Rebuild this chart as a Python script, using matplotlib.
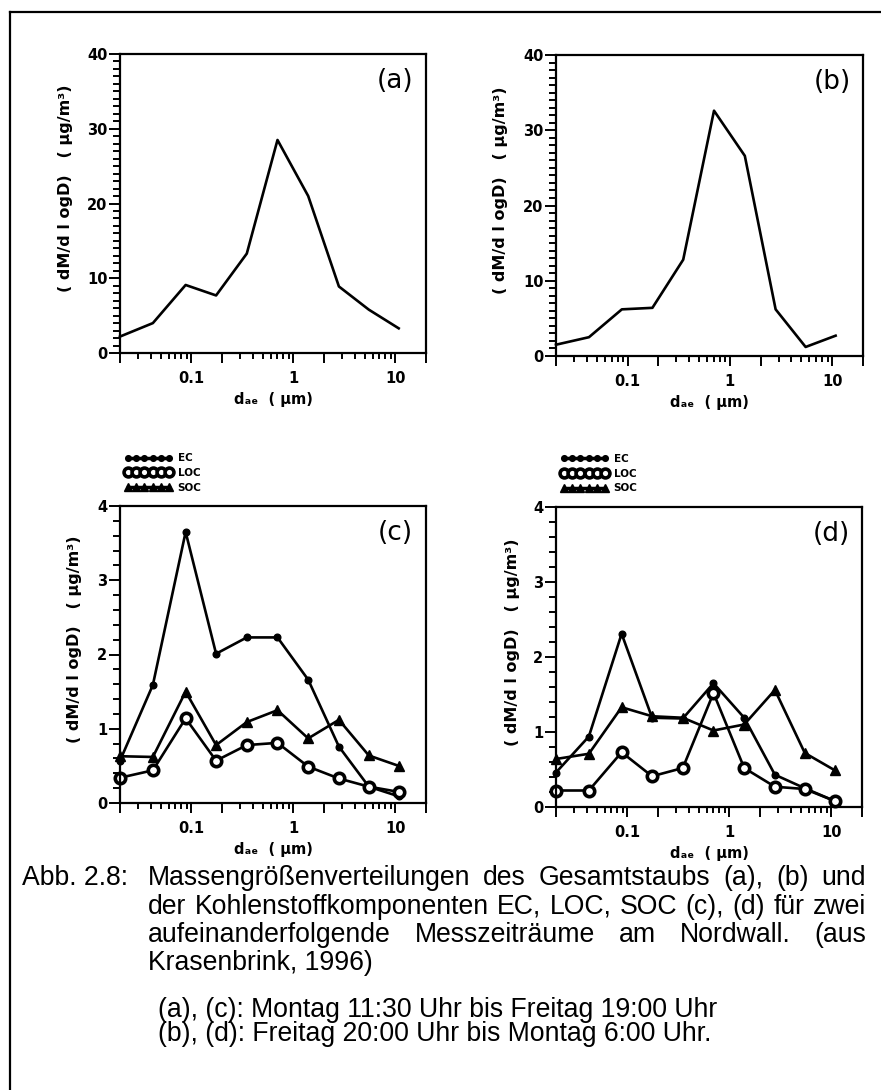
import matplotlib
matplotlib.use("Agg")
import matplotlib.pyplot as plt
from matplotlib.ticker import FixedLocator, FuncFormatter, LogLocator, NullFormatter, MultipleLocator
from matplotlib.lines import Line2D
from matplotlib import font_manager as fm

# ---------------- data ----------------
d_ae = [0.02, 0.042, 0.088, 0.175, 0.35, 0.70, 1.4, 2.8, 5.5, 10.8]

total_a = [2.2, 4.0, 9.1, 7.7, 13.3, 28.5, 21.0, 8.9, 5.8, 3.3]
total_b = [1.5, 2.5, 6.2, 6.4, 12.8, 32.6, 26.6, 6.2, 1.2, 2.7]

EC_c = [0.57, 1.59, 3.65, 2.01, 2.23, 2.23, 1.66, 0.76, 0.22, 0.09]
LOC_c = [0.34, 0.44, 1.14, 0.57, 0.78, 0.81, 0.49, 0.33, 0.22, 0.15]
SOC_c = [0.63, 0.62, 1.50, 0.78, 1.09, 1.25, 0.87, 1.12, 0.64, 0.50]

EC_d = [0.46, 0.94, 2.31, 1.19, 1.18, 1.65, 1.19, 0.43, 0.25, 0.08]
LOC_d = [0.22, 0.22, 0.73, 0.41, 0.52, 1.52, 0.52, 0.27, 0.24, 0.08]
SOC_d = [0.64, 0.71, 1.33, 1.21, 1.19, 1.02, 1.10, 1.56, 0.72, 0.49]

series_names = ["EC", "LOC", "SOC"]
panel_labels = ["(a)", "(b)", "(c)", "(d)"]
x_ticks = [0.1, 1, 10]
x_tick_labels = ["0.1", "1", "10"]
ylabel_text = "( dM/d l ogD)   ( μg/m³)"
xlabel_text = "dₐₑ  ( μm)"

caption_lines = [
    "Massengrößenverteilungen des Gesamtstaubs (a), (b) und",
    "der Kohlenstoffkomponenten EC, LOC, SOC (c), (d) für zwei",
    "aufeinanderfolgende Messzeiträume am Nordwall. (aus",
    "Krasenbrink, 1996)",
]
caption_head = "Abb. 2.8:"
note_lines = [
    "(a), (c): Montag 11:30 Uhr bis Freitag 19:00 Uhr",
    "(b), (d): Freitag 20:00 Uhr bis Montag 6:00 Uhr.",
]

# ---------------- figure ----------------
W, H = 881, 1090
fig = plt.figure(figsize=(W / 100, H / 100), dpi=100)
fig.patch.set_facecolor("white")


def px_axes(left, top, right, bottom):
    return fig.add_axes([left / W, 1 - bottom / H, (right - left) / W, (bottom - top) / H])


ax_a = px_axes(120, 54, 426, 353)
ax_b = px_axes(556, 55, 863, 356)
ax_c = px_axes(120, 506, 426, 803)
ax_d = px_axes(556, 507, 862, 807)

tick_font = dict(family="DejaVu Sans", weight="bold", size=10.5)


def style_axis(ax, ymax, ymajor, yminor, label, ylab_x):
    ax.set_xscale("log")
    ax.set_xlim(0.02, 20)
    ax.set_ylim(0, ymax)
    major_pos = [0.02, 0.1, 0.2, 1, 2, 10, 20]
    ax.xaxis.set_major_locator(FixedLocator(major_pos))
    lab = dict(zip(x_ticks, x_tick_labels))
    ax.xaxis.set_major_formatter(FuncFormatter(
        lambda v, p: next((t for k, t in lab.items() if abs(v - k) < 1e-9), "")))
    ax.xaxis.set_minor_locator(LogLocator(base=10, subs=[3, 4, 5, 6, 7, 8, 9], numticks=20))
    ax.xaxis.set_minor_formatter(NullFormatter())
    ax.yaxis.set_major_locator(MultipleLocator(ymajor))
    ax.yaxis.set_minor_locator(MultipleLocator(yminor))
    ax.yaxis.set_major_formatter(FuncFormatter(lambda v, p: f"{v:g}"))
    for s in ax.spines.values():
        s.set_linewidth(1.6)
    ax.tick_params(axis="both", which="both", direction="out", top=False, right=False, width=1.4)
    ax.tick_params(axis="x", which="major", length=7, pad=6)
    ax.tick_params(axis="x", which="minor", length=4.5)
    ax.tick_params(axis="y", which="major", length=8, pad=1)
    ax.tick_params(axis="y", which="minor", length=5)
    for t in ax.get_xticklabels() + ax.get_yticklabels():
        t.set_fontproperties(fm.FontProperties(**tick_font))
    ax.set_ylabel(ylabel_text, fontdict=dict(family="DejaVu Sans", weight="bold", size=11.5))
    ax.yaxis.set_label_coords(ylab_x, 0.55)
    ax.set_xlabel(xlabel_text, fontdict=dict(family="DejaVu Sans", weight="bold", size=10.5))
    ax.xaxis.set_label_coords(0.5, -0.13)
    ax.text(0.9, 0.91, label, transform=ax.transAxes, ha="center", va="center",
            fontsize=19, family="DejaVu Sans")


style_axis(ax_a, 40, 10, 1, panel_labels[0], -0.154)
style_axis(ax_b, 40, 10, 1, panel_labels[1], -0.156)
style_axis(ax_c, 4, 1, 0.2, panel_labels[2], -0.124)
style_axis(ax_d, 4, 1, 0.2, panel_labels[3], -0.117)

lw = 1.9
ax_a.plot(d_ae, total_a, color="black", lw=lw, clip_on=False)
ax_b.plot(d_ae, total_b, color="black", lw=lw, clip_on=False)

styles = {
    "EC": dict(marker="o", ms=4.8, mfc="black", mec="black"),
    "LOC": dict(marker="o", ms=7.5, mfc="white", mec="black", mew=2.6),
    "SOC": dict(marker="^", ms=6.5, mfc="black", mec="black"),
}

for ax, data in [(ax_c, [EC_c, LOC_c, SOC_c]), (ax_d, [EC_d, LOC_d, SOC_d])]:
    for name, vals in zip(series_names, data):
        ax.plot(d_ae, vals, color="black", lw=lw, clip_on=False, label=name, **styles[name])
    leg = ax.legend(loc="lower left", bbox_to_anchor=(0.015, 1.045), numpoints=6,
                    frameon=False, handlelength=4.6, handletextpad=0.5, labelspacing=0.45,
                    borderpad=0, borderaxespad=0, markerscale=0.85,
                    prop=fm.FontProperties(family="DejaVu Sans", weight="bold", size=7.5))
    for h in leg.legend_handles:
        h.set_linewidth(2.5)

# ---------------- outer frame ----------------
fig.add_artist(Line2D([10 / W, 10 / W], [1 - 12 / H, 0], transform=fig.transFigure,
                      color="black", lw=1.6))
fig.add_artist(Line2D([10 / W, 1], [1 - 12 / H, 1 - 12 / H], transform=fig.transFigure,
                      color="black", lw=1.6))

# ---------------- caption ----------------
def have(name):
    try:
        fm.findfont(fm.FontProperties(family=name), fallback_to_default=False)
        return True
    except Exception:
        return False


cap_family = "Liberation Sans Narrow" if have("Liberation Sans Narrow") else "Liberation Sans"

fig.canvas.draw()
r = fig.canvas.get_renderer()

# fit font size so that the note line spans its width in the reference
probe = fig.text(0, 0, note_lines[0], fontsize=10, family=cap_family)
w10 = probe.get_window_extent(r).width
probe.remove()
cap_fs = 10 * 562 / w10


def put(x, y, s):
    return fig.text(x / W, 1 - y / H, s, fontsize=cap_fs, family=cap_family,
                    ha="left", va="center")


def justify(line, y, x0, x1):
    words = line.split(" ")
    texts = [put(0, y, w) for w in words]
    widths = [t.get_window_extent(r).width for t in texts]
    gap = (x1 - x0 - sum(widths)) / max(len(words) - 1, 1)
    x = x0
    for t, w in zip(texts, widths):
        t.set_x(x / W)
        x += w + gap


cap_y = [878, 906.5, 935, 963.5]
put(22, cap_y[0], caption_head)
for i, (line, y) in enumerate(zip(caption_lines, cap_y)):
    if i < len(caption_lines) - 1:
        justify(line, y, 148, 866)
    else:
        put(148, y, line)

for line, y in zip(note_lines, [1010, 1034]):
    put(158, y, line)

fig.savefig("out.png", dpi=100, facecolor="white")
